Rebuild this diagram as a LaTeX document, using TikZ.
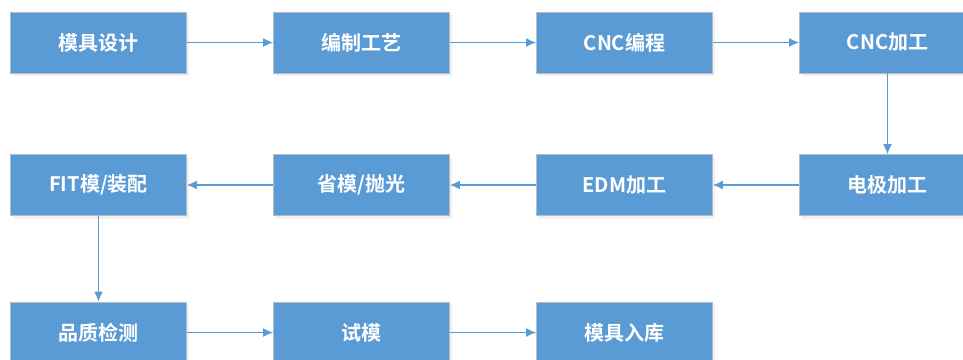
\documentclass[tikz,border=0pt]{standalone}
\usepackage{fontspec}
\setmainfont{Noto Sans CJK SC}[BoldFont={Noto Sans CJK SC Bold}]
\usepackage{xcolor}
\usetikzlibrary{arrows.meta,shadows}
\definecolor{boxblue}{HTML}{5B9BD5}
\definecolor{boxedge}{HTML}{B4BCC6}

\begin{document}
\begin{tikzpicture}[x=1pt, y=-1pt, -{Latex[length=10pt,width=9pt]}, line width=1.3pt, draw=boxblue,
   box/.style={rectangle, draw=boxedge, line width=0.8pt, fill=boxblue, minimum width=176pt, minimum height=61pt,
      text=white, font=\bfseries\fontsize{20}{22}\selectfont, inner sep=0pt,
      drop shadow={opacity=0.12, shadow xshift=2pt, shadow yshift=-3pt}}]
   \useasboundingbox (0,0) rectangle (963,359);
   \clip (0,0) rectangle (963,359);
   \node [box] (design) at (98.5, 42.5) {模具设计};
   \node [box] (craft) at (361.5, 42.5) {编制工艺};
   \node [box] (program) at (624.5, 42.5) {CNC编程};
   \node [box] (cnc) at (887.5, 42.5) {CNC加工};
   \node [box] (electrode) at (887.5, 185) {电极加工};
   \node [box] (edm) at (624.5, 185) {EDM加工};
   \node [box] (polish) at (361.5, 185) {省模/抛光};
   \node [box] (fit) at (98.5, 185) {FIT模/装配};
   \node [box] (check) at (98.5, 332.5) {品质检测};
   \node [box] (trial) at (361.5, 332.5) {试模};
   \node [box] (store) at (624.5, 332.5) {模具入库};

   \path [draw=boxblue] (design) edge (craft) ;
   \path [draw=boxblue] (craft) edge (program) ;
   \path [draw=boxblue] (program) edge (cnc) ;
   \path [draw=boxblue] (cnc) edge (electrode) ;
   \path [draw=boxblue] (electrode) edge (edm) ;
   \path [draw=boxblue] (edm) edge (polish) ;
   \path [draw=boxblue] (polish) edge (fit) ;
   \path [draw=boxblue] (fit) edge (check) ;
   \path [draw=boxblue] (check) edge (trial) ;
   \path [draw=boxblue] (trial) edge (store) ;
\end{tikzpicture}
\end{document}
